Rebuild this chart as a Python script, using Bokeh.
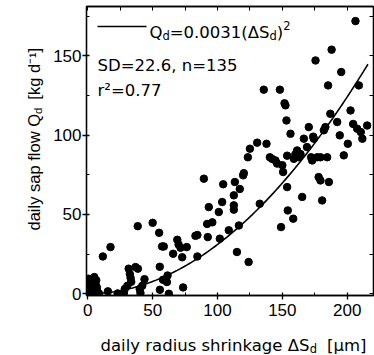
import numpy as np
from bokeh.plotting import figure
from bokeh.layouts import column
from bokeh.models import Range1d, LinearAxis, Label, FixedTicker
from bokeh.embed import file_html
from bokeh.resources import INLINE

# ---- data ----
shrinkage = [0.5, 1.0, 2.0, 0.3, 3.0, 5.0, 6.0, 7.0, 2.0, 4.5, 8.5, 6.5, 1.5, 7.0, 3.5, 5.0,
             11.6, 17.5, 15.5, 23.0, 27.8, 28.5, 30.5, 33.5, 31.5, 32.4, 33.0, 36.8, 38.6, 38.5,
             40.0, 40.6, 43.7, 42.0, 50.0, 55.0, 55.5, 55.6, 57.3, 58.6, 58.0, 61.0, 61.5, 62.5,
             65.8, 69.0, 70.0, 71.5, 72.8, 73.5, 76.3, 83.0, 84.5, 84.5,
             89.5, 92.0, 92.5, 93.3, 96.0, 101.0, 101.8, 103.6, 104.4, 108.7, 112.6, 112.6, 112.6,
             113.4, 115.0, 116.5, 117.2, 119.8, 120.3, 124.0, 123.4, 125.0, 132.6, 130.6, 135.7,
             137.8, 140.4, 142.0, 144.7, 146.0, 148.1, 149.0, 150.0, 150.6, 151.7, 152.4, 153.2,
             153.7, 153.7, 154.2, 156.3, 158.4,
             158.9, 160.0, 161.4, 162.7, 164.0, 165.3, 166.6, 169.0, 170.4, 172.2, 173.0, 173.8,
             174.3, 175.6, 176.9, 178.0, 179.4, 179.4, 180.7, 182.0, 183.2, 184.6, 185.3, 185.9,
             187.0, 188.0, 192.3, 194.3, 195.4, 197.4, 200.5, 202.6, 204.6, 206.4, 207.7, 209.0,
             210.5, 211.7, 215.4]
sap_flow = [9.5, 6.5, 3.5, 2.0, 7.5, 10.5, 6.0, 4.0, 0.5, 1.0, 0.3, 8.5, 5.0, 2.0, 4.5, 2.5,
            23.5, 29.4, 1.5, 0.2, 0.5, 3.0, 5.0, 7.5, 15.8, 12.5, 10.0, 16.8, 15.8, 42.6,
            3.0, 0.5, 9.2, 5.0, 44.7, 38.4, 17.0, 2.5, 29.8, 29.8, 8.8, 7.4, 11.5, 0.0,
            25.2, 34.0, 31.0, 29.0, 23.0, 4.0, 29.4, 36.5, 37.0, 23.5,
            72.5, 44.0, 35.7, 54.6, 45.0, 51.5, 34.7, 57.8, 69.0, 40.0, 62.0, 55.7, 53.0,
            70.4, 26.3, 43.0, 66.0, 74.6, 76.0, 20.0, 86.0, 91.4, 56.7, 95.2, 128.6,
            94.5, 86.0, 85.0, 84.0, 82.0, 128.6, 42.0, 81.0, 76.7, 120.0, 118.7, 109.2,
            87.0, 67.2, 52.5, 100.8, 47.3,
            85.0, 87.8, 90.3, 86.0, 88.0, 61.0, 97.7, 92.4, 105.0, 86.0, 84.0, 99.0,
            97.7, 147.0, 86.0, 73.5, 71.4, 86.0, 58.8, 103.0, 105.0, 86.0, 131.3, 70.4,
            113.4, 153.8, 108.2, 99.8, 139.7, 87.2, 94.5, 115.5, 107.0, 171.8, 104.0, 131.3,
            101.9, 97.7, 106.0]
fit_coef = 0.0031          # Qd = 0.0031 (dSd)^2
fit_x_max = 216
x_ticks = [0, 50, 100, 150, 200]
x_minor = [25, 75, 125, 175]
y_ticks = [0, 50, 100, 150]
y_minor = [25, 75, 125, 175]

# ---- page geometry (pixels) ----
PAGE_W, PAGE_H = 374, 355
XLAB_H = 25                         # strip at the bottom holding the x axis title
MAIN_H = PAGE_H - XLAB_H
FL, FR, FT, FB = 86, 373, 6, 295    # plot frame on the page

X0, X1 = -1.0, 220.3
Y0, Y1 = -1.1, 181.0


def px2x(px):
    return X0 + (px - FL) * (X1 - X0) / (FR - FL)


def py2y(py):
    return Y1 - (py - FT) * (Y1 - Y0) / (FB - FT)


p = figure(width=PAGE_W, height=MAIN_H, x_range=Range1d(X0, X1), y_range=Range1d(Y0, Y1),
           output_backend="svg", toolbar_location=None,
           min_border_left=FL, min_border_right=PAGE_W - FR,
           min_border_top=FT, min_border_bottom=MAIN_H - FB)
p.title.visible = False
p.grid.visible = False
p.outline_line_color = "black"
p.outline_line_width = 1.3
p.background_fill_color = "white"
p.border_fill_color = "white"

p.add_layout(LinearAxis(), "above")
p.add_layout(LinearAxis(), "right")

p.below[0].ticker = FixedTicker(ticks=x_ticks, minor_ticks=x_minor)
p.left[0].ticker = FixedTicker(ticks=y_ticks, minor_ticks=y_minor)
# mirrored axes: tick marks only (no labels)
p.above[0].ticker = FixedTicker(ticks=[], minor_ticks=sorted(x_ticks + x_minor))
p.right[0].ticker = FixedTicker(ticks=[], minor_ticks=sorted(y_ticks + y_minor))

for ax in p.axis:
    ax.axis_line_width = 1.3
    ax.axis_line_color = "black"
    ax.major_tick_line_width = 1.3
    ax.minor_tick_line_width = 1.0
    ax.major_tick_line_color = "black"
    ax.minor_tick_line_color = "black"
    ax.minor_tick_in = 3
    ax.minor_tick_out = 0
    ax.major_label_text_font = "Liberation Sans"
    ax.major_label_text_font_size = "17px"
    ax.major_label_text_color = "black"

for ax in (p.below[0], p.left[0]):
    ax.major_tick_in = 3
    ax.major_tick_out = 4

p.below[0].major_label_standoff = 4
p.left[0].major_label_standoff = 1

for ax in (p.above[0], p.right[0]):
    ax.minor_tick_in = 4
    ax.major_tick_out = 0
    ax.major_label_standoff = 0

# ---- marks ----
p.scatter(shrinkage, sap_flow, size=7.5, color="black")
x_fit = np.linspace(0, fit_x_max, 120)
p.line(x_fit, fit_coef * x_fit ** 2, line_width=1.6, color="black")

# ---- composed texts (sub/superscripts built from pieces) ----
DV = {' ': .318, '(': .390, ')': .390, ',': .318, '.': .318, '=': .838, 'D': .770, 'Q': .787,
      'S': .635, '[': .390, ']': .390, 'a': .613, 'd': .635, 'e': .615, 'f': .352, 'g': .635,
      'h': .634, 'i': .278, 'k': .579, 'l': .278, 'm': .974, 'n': .634, 'o': .612, 'p': .635,
      'r': .411, 's': .521, 'u': .634, 'w': .818, 'y': .592, 'Δ': .684, 'μ': .635, '-': .361,
      '²': .401}
for c in '0123456789':
    DV[c] = .636
AR = {' ': .278, '[': .278, ']': .278, 'a': .556, 'd': .556, 'f': .278, 'g': .556, 'i': .222,
      'k': .5, 'l': .222, 'o': .556, 'p': .556, 's': .5, 'w': .722, 'y': .5, 'Q': .778,
      '-': .333, '1': .556}


def compose(fig, pieces, sx, sy, font, widths, tox, toy, vertical=False, place=None):
    """pieces: (text, font px, baseline shift px, gap px before); sx, sy in page px."""
    cum = 0.0
    for text, size, shift, gap in pieces:
        cum += gap
        if vertical:
            x, y, ang = tox(sx + shift), toy(sy - cum), np.pi / 2
        else:
            x, y, ang = tox(sx + cum), toy(sy + shift), 0.0
        lab = Label(x=x, y=y, text=text, angle=ang, text_font=font,
                    text_font_size=f"{size}px", text_align="left",
                    text_baseline="alphabetic", text_color="black")
        if place is None:
            fig.add_layout(lab)
        else:
            fig.add_layout(lab, place)
        cum += sum(widths.get(c, .6) for c in text) * size


MAIN, SUB = 16.5, 11.5
# legend key line
p.segment(x0=[px2x(97)], y0=[py2y(26)], x1=[px2x(146)], y1=[py2y(26)],
          line_width=1.5, color="black")
compose(p, [("Q", MAIN, 0, 0), ("d", SUB, 4, 0), ("=0.0031(ΔS", MAIN, 0, 0),
            ("d", SUB, 4, 0), (")", MAIN, 0, 0), ("2", SUB, -7, 0)],
        149, 31.5, "DejaVu Sans", DV, px2x, py2y)
compose(p, [("SD=22.6, n=135", MAIN, 0, 0)], 97, 65, "DejaVu Sans", DV, px2x, py2y)
compose(p, [("r²=0.77", MAIN, 0, 0)], 97, 90, "DejaVu Sans", DV, px2x, py2y)

# y axis title: rotated pieces in the left side panel (not clipped to the frame)
compose(p, [("daily sap flow Q", 16.5, 0, 0), ("d", SUB, 4, 0), ("[kg d⁻¹]", 16.5, 0, 8)],
        33, 230, "Liberation Sans", AR, px2x, py2y, vertical=True, place="left")

# x axis title strip below the plot, its frame lined up with the plot frame
xlab = figure(width=PAGE_W, height=XLAB_H, x_range=Range1d(X0, X1), y_range=Range1d(0, XLAB_H),
              output_backend="svg", toolbar_location=None,
              x_axis_location=None, y_axis_location=None,
              min_border_left=FL, min_border_right=PAGE_W - FR,
              min_border_top=0, min_border_bottom=0)
xlab.title.visible = False
xlab.grid.visible = False
xlab.outline_line_color = None
xlab.background_fill_color = "white"
xlab.border_fill_color = "white"
compose(xlab, [("daily radius shrinkage ΔS", MAIN, 0, 0), ("d", SUB, 3, 0),
               ("[μm]", MAIN, 0, 10)],
        100, 345, "DejaVu Sans", DV, px2x, lambda py: PAGE_H - py)

layout = column(p, xlab)
open("out.html", "w").write(file_html(layout, INLINE))
